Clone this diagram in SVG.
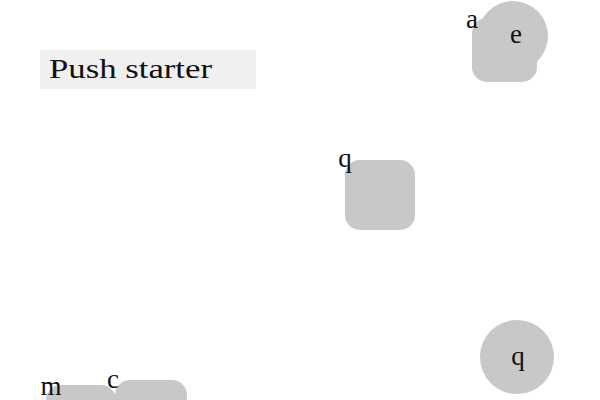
<svg xmlns="http://www.w3.org/2000/svg" width="600" height="400" viewBox="0 0 600 400">
<style>
.n{fill:#c8c8c8;}
.t{font-family:"Liberation Serif",serif;font-size:27px;fill:#111;text-anchor:middle;}
</style>
<rect width="600" height="400" fill="#ffffff"/>
<g id="title">
<rect x="40" y="50" width="216" height="39" fill="#f0f0f0"/>
<text x="49" y="78" font-family="Liberation Serif, serif" font-size="28" fill="#111" textLength="163" lengthAdjust="spacingAndGlyphs">Push starter</text>
</g>
<g id="connectors"></g>
<g id="node-a">
<rect class="n" x="472" y="18" width="65" height="64" rx="15"/>
<text class="t" x="472" y="28">a</text>
</g>
<g id="node-e">
<circle class="n" cx="513" cy="36" r="35"/>
<text class="t" x="516" y="43">e</text>
</g>
<g id="node-q1">
<rect class="n" x="345" y="160" width="70" height="70" rx="15"/>
<text class="t" x="345" y="167">q</text>
</g>
<g id="node-q2">
<circle class="n" cx="517" cy="357" r="37"/>
<text class="t" x="518" y="365">q</text>
</g>
<g id="node-m">
<rect class="n" x="46" y="385" width="70" height="70" rx="15"/>
<text class="t" x="51" y="395">m</text>
</g>
<g id="node-c">
<rect class="n" x="115" y="380" width="72" height="72" rx="15"/>
<text class="t" x="113" y="388">c</text>
</g>
</svg>
